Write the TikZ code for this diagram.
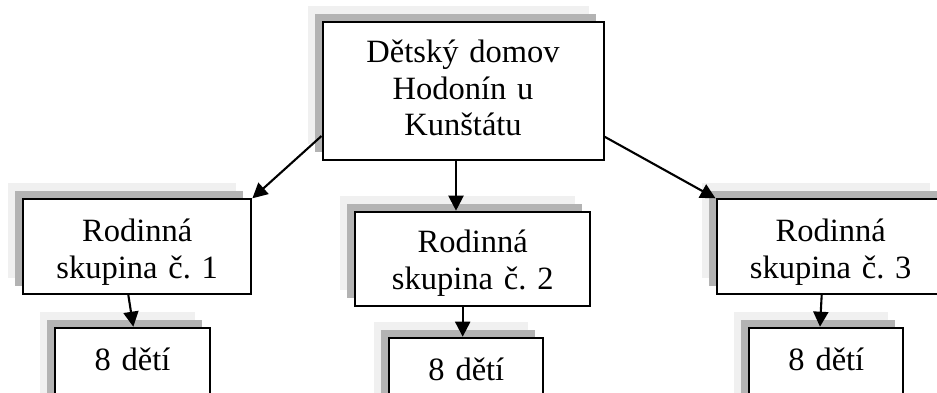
\documentclass[tikz,border=0pt]{standalone}
\usepackage{fontspec}
\setmainfont{Liberation Serif}
\usetikzlibrary{arrows.meta, positioning, calc, shadows}
\definecolor{stinsvetly}{HTML}{F0F0F0}
\definecolor{stintmavy}{HTML}{B3B3B3}
\frenchspacing

\begin{document}
\begin{tikzpicture}[x=1pt, y=-1pt,
    skupina/.style={draw, line width=2.1pt, fill=white, anchor=north west,
      inner xsep=0pt, inner ysep=0pt, align=center,
      font=\fontsize{32.5}{36.5}\selectfont,
      general shadow={fill=stinsvetly, shadow xshift=-15pt, shadow yshift=16pt},
      general shadow={fill=stintmavy, shadow xshift=-8pt, shadow yshift=8pt}}]
          \useasboundingbox (0,0) rectangle (937,392);

          \node (dd) [skupina, text width=281pt, text height=41pt, text depth=97.3pt] at (321.5,20.7) {Dětský domov\\Hodonín u\\Kunštátu};

          \node (r1) [skupina, text width=228.3pt, text height=42.4pt, text depth=52pt] at (22,198.3) {Rodinná\\skupina č. 1};
          \node (r2) [skupina, text width=235pt, text height=41pt, text depth=53.3pt] at (354.2,210.7) {Rodinná\\skupina č. 2};
          \node (r3) [skupina, text width=228.3pt, text height=42.4pt, text depth=52pt] at (715.5,198.3) {Rodinná\\skupina č. 3};

          \node (b1) [skupina, text width=155pt, text height=42.6pt, text depth=60pt] at (54,326.7) {8 dětí};
          \node (b2) [skupina, text width=154pt, text height=42.6pt, text depth=60pt] at (388.3,336.7) {8 dětí};
          \node (b3) [skupina, text width=154pt, text height=42.6pt, text depth=60pt] at (748.3,326.7) {8 dětí};

          \path [-{Triangle[length=15pt, width=15pt]}, line width=2.1pt]
              ($(dd.north west)+(0,115.3)$) edge (r1.north east)
              ($(dd.south west)+(134.5,0)$) edge ($(r2.north west)+(101.8,0)$)
              ($(dd.north east)+(0,116)$) edge (r3.north west)

              ($(r1.south west)+(106.3,0)$) edge ($(b1.north west)+(79.3,0)$)
              ($(r2.south west)+(108.5,0)$) edge ($(b2.north west)+(74.4,0)$)
              ($(r3.south west)+(106.2,0)$) edge ($(b3.north west)+(71.7,0)$)
              ;
      \end{tikzpicture}
\end{document}
